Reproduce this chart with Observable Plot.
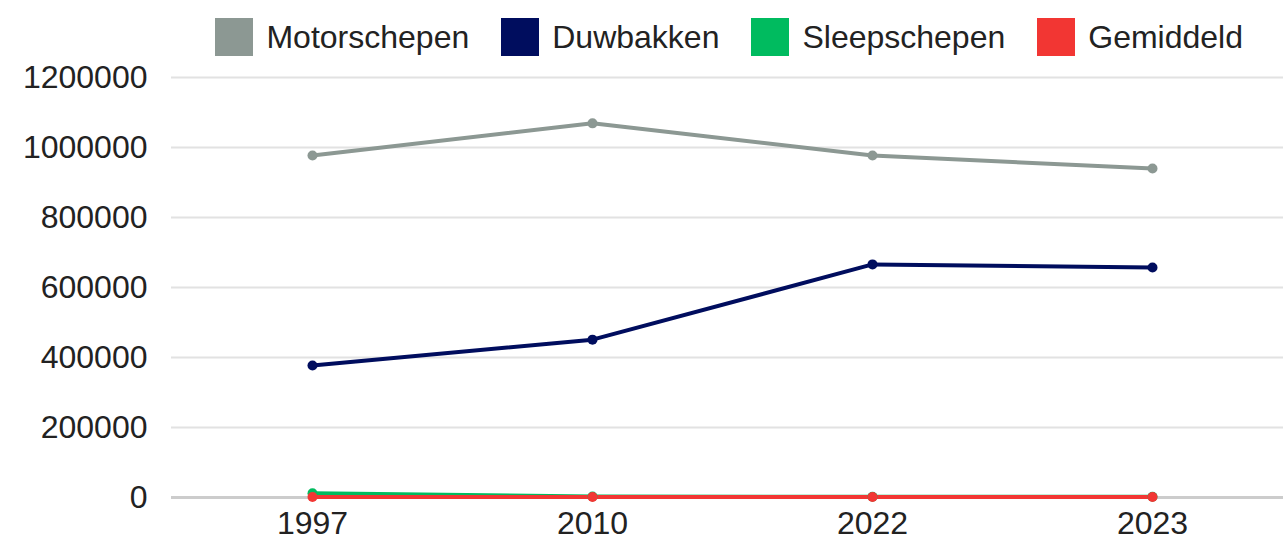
<!DOCTYPE html>
<html>
<head>
<meta charset="utf-8">
<script src="https://cdn.jsdelivr.net/npm/d3@7"></script>
<script src="https://cdn.jsdelivr.net/npm/@observablehq/plot@0.6"></script>
<style>
  html, body { margin: 0; padding: 0; background: #fff; }
  body { width: 1283px; height: 543px; overflow: hidden; font-family: "Liberation Sans", Arial, sans-serif; }
  #legend { height: 60px; display: flex; justify-content: flex-end; align-items: center; padding-right: 40px; padding-top: 14px; box-sizing: border-box; font-size: 32px; color: #222; }
  .item { display: flex; align-items: center; margin-left: 32px; }
  .sw { width: 38px; height: 38px; margin-right: 13px; }
  #chart svg { overflow: hidden; }
</style>
</head>
<body>
<div id="legend"></div>
<div id="chart"></div>
<script>
const years = ["1997", "2010", "2022", "2023"];
const seriesNames = ["Motorschepen", "Duwbakken", "Sleepschepen", "Gemiddeld"];
const colors = ["#8c9893", "#000d5e", "#00bb5f", "#f23633"];
const motorschepen = [977000, 1069000, 977000, 940000];
const duwbakken = [377000, 451000, 666000, 657000];
const sleepschepen = [12000, 3000, 2000, 2000];
const gemiddeld = [1500, 1500, 1500, 1500];
const yTicks = [0, 200000, 400000, 600000, 800000, 1000000, 1200000];

const valuesBySeries = [motorschepen, duwbakken, sleepschepen, gemiddeld];
const data = [];
seriesNames.forEach((s, i) => years.forEach((y, j) => data.push({series: s, year: y, value: valuesBySeries[i][j]})));

const legend = document.getElementById("legend");
seriesNames.forEach((s, i) => {
  const it = document.createElement("div");
  it.className = "item";
  it.innerHTML = `<span class="sw" style="background:${colors[i]}"></span><span>${s}</span>`;
  legend.appendChild(it);
});

const chart = Plot.plot({
  width: 1283,
  height: 483,
  marginLeft: 171,
  marginRight: -10,
  marginTop: 17,
  marginBottom: 46,
  style: {fontFamily: "Liberation Sans, Arial, sans-serif", fontSize: "32px", color: "#222", background: "#fff"},
  x: {type: "point", domain: years, padding: 0.5, label: null},
  y: {domain: [0, 1200000], ticks: yTicks, label: null, tickFormat: d => String(d)},
  color: {domain: seriesNames, range: colors},
  marks: [
    Plot.ruleY(yTicks.filter(d => d > 0), {stroke: "#e2e2e2", strokeWidth: 2}),
    Plot.ruleY([0], {stroke: "#cccccc", strokeWidth: 3}),
    Plot.axisY({ticks: yTicks, tickSize: 0, tickPadding: 24, tickFormat: d => String(d), fontSize: 32}),
    Plot.axisX({tickSize: 0, tickPadding: 14, fontSize: 32}),
    Plot.line(data, {x: "year", y: "value", z: "series", stroke: "series", strokeWidth: 4, curve: "linear"}),
    Plot.dot(data, {x: "year", y: "value", fill: "series", r: 5})
  ]
});
document.getElementById("chart").appendChild(chart);
</script>
</body>
</html>
